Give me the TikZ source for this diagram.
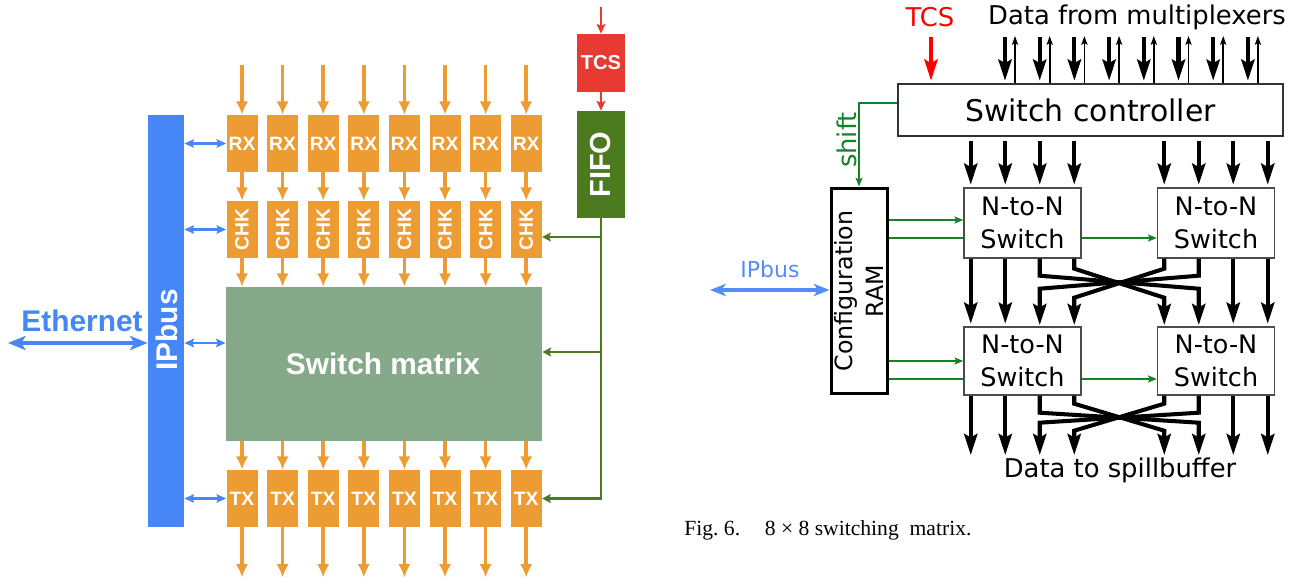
\documentclass[tikz,border=0pt]{standalone}
\usepackage{fontspec}
\setmainfont{Liberation Serif}
\setsansfont{DejaVu Sans}
\newfontfamily\arialfont{Liberation Sans}
\usetikzlibrary{arrows.meta, positioning}
\definecolor{gblue}{RGB}{70, 134, 246}
\definecolor{gorange}{RGB}{236, 156, 50}
\definecolor{gsage}{RGB}{134, 169, 138}
\definecolor{gred}{RGB}{232, 58, 48}
\definecolor{gfifo}{RGB}{76, 122, 30}
\definecolor{cgreen}{RGB}{22, 130, 40}
\definecolor{ipblue}{RGB}{84, 140, 250}

\begin{document}
\begin{tikzpicture}[x=0.02cm, y=-0.02cm,
    obox/.style={fill=gorange, minimum width=0.62cm, minimum height=1.14cm, inner sep=0pt},
    wlabel/.style={text=white, font=\arialfont\bfseries\fontsize{11}{13}\selectfont, inner sep=0pt},
    oarr/.style={draw=gorange, line width=2pt, -{Latex[length=7.5pt,width=7pt]}},
    barr/.style={draw=gblue, line width=1.3pt, {Stealth[length=5.5pt,width=4.8pt,inset=1pt]}-{Stealth[length=5.5pt,width=4.8pt,inset=1pt]}},
    etharr/.style={draw=gblue, line width=2pt, {Stealth[length=10pt,width=8pt,inset=2.5pt]}-{Stealth[length=10pt,width=8pt,inset=2.5pt]}},
    garr/.style={draw=gfifo, line width=1.6pt, -{Stealth[length=5pt,width=5pt,inset=1pt]}},
    rarr/.style={draw=gred, line width=1.2pt, -{Stealth[length=5.5pt,width=5pt,inset=1pt]}},
    swbox/.style={draw=black!70, line width=0.8pt, minimum width=2.34cm, minimum height=1.4cm, inner sep=0pt, align=center, font=\sffamily\fontsize{14.5}{19}\selectfont},
    rtext/.style={font=\sffamily\fontsize{14.7}{18}\selectfont, inner sep=0pt},
    darr/.style={line width=2.3pt, shorten >=1.5pt, -{Stealth[length=12pt,width=7.5pt,inset=2pt]}},
    uarr/.style={line width=0.9pt, -{Stealth[length=5pt,width=3.5pt,inset=1pt]}},
    cline/.style={draw=cgreen, line width=1.4pt},
    carr/.style={cline, -{Stealth[length=5pt,width=4pt,inset=1pt]}},
    iparr/.style={draw=ipblue, line width=1.8pt, {Stealth[length=9pt,width=7pt,inset=2.5pt]}-{Stealth[length=9pt,width=7pt,inset=2.5pt]}},
  ]
\useasboundingbox (0,0) rectangle (1301,577);

% ---- left: Ethernet / IPbus ----
\node[fill=gblue, minimum width=0.72cm, minimum height=8.24cm, inner sep=0pt] (ipbar) at (166,321) {};
\node[wlabel, rotate=90, font=\arialfont\bfseries\fontsize{17}{20}\selectfont] (iptxt) at (167,330) {IPbus};
\node[text=gblue, font=\arialfont\bfseries\fontsize{17}{20}\selectfont, inner sep=0pt] (ethlbl) at (82,321) {Ethernet};
\coordinate (ethin) at (8,343);
\draw[etharr] (ethin) -- (ipbar.west |- ethin);

% ---- left: RX / CHK / TX columns ----
\node[fill=gsage, minimum width=6.32cm, minimum height=3.08cm, inner sep=0pt] (sm) at (384,364) {};
\node[wlabel, font=\arialfont\bfseries\fontsize{17}{20}\selectfont] (smtxt) at (383,364) {Switch matrix};
\foreach \i in {1,...,8} {
  \pgfmathsetmacro\xx{242+40.6*(\i-1)}
  \node[obox] (rx\i) at (\xx,143.5) {};
  \node[wlabel] at (rx\i) {RX};
  \node[obox] (chk\i) at (\xx,229.5) {};
  \node[wlabel, rotate=90] at (chk\i) {CHK};
  \node[obox] (tx\i) at (\xx,498.5) {};
  \node[wlabel] at (tx\i) {TX};
  \draw[oarr] (rx\i.north) ++(0,-50) -- (rx\i.north);
  \draw[oarr] (rx\i.south) -- (chk\i.north);
  \draw[oarr] (chk\i.south) -- (chk\i.south |- sm.north);
  \draw[oarr] (tx\i.north |- sm.south) -- (tx\i.north);
  \draw[oarr] (tx\i.south) -- ++(0,50);
}
\draw[barr] (ipbar.east |- rx1) -- (rx1.west);
\draw[barr] (ipbar.east |- chk1) -- (chk1.west);
\draw[barr] (ipbar.east |- ethin) -- (sm.west |- ethin);
\draw[barr] (ipbar.east |- tx1) -- (tx1.west);

% ---- left: TCS / FIFO ----
\node[fill=gred, minimum width=0.96cm, minimum height=1.16cm, inner sep=0pt] (tcs) at (601,63) {};
\node[wlabel, font=\arialfont\bfseries\fontsize{11.5}{13}\selectfont] at (tcs) {TCS};
\node[fill=gfifo, minimum width=0.96cm, minimum height=2.14cm, inner sep=0pt] (fifo) at (601,164.5) {};
\node[wlabel, rotate=90, font=\arialfont\bfseries\fontsize{16.5}{19}\selectfont] at (fifo) {FIFO};
\draw[rarr] (tcs.north) ++(0,-27) -- (tcs.north);
\draw[rarr] (tcs.south) -- (fifo.north);
\coordinate (chkin) at ([yshift=-0.15cm]chk8.east);
\coordinate (smin) at ([yshift=0.24cm]sm.east);
\draw[garr] (fifo.south) |- (tx8.east);
\draw[garr] (fifo.south |- chkin) -- (chkin);
\draw[garr] (fifo.south |- smin) -- (smin);

% ---- right: switch controller ----
\node[draw=black!80, line width=0.8pt, minimum width=7.7cm, minimum height=1.04cm, inner sep=0pt,
      font=\sffamily\fontsize{17}{20}\selectfont] (ctrl) at (1090.5,110) {Switch controller};
\node[rtext, text=red] (tcslbl) at (930,17) {TCS};
\node[rtext] (dfm) at (1137,17) {Data from multiplexers};
\coordinate (tcsin) at (931,37);
\draw[darr, red] (tcsin) -- (tcsin |- ctrl.north);
\foreach \i in {0,...,7} {
  \pgfmathsetmacro\xd{1005+34.7*\i}
  \coordinate (din\i) at (\xd,37);
  \coordinate (dout\i) at (\xd+10,36);
  \draw[darr] (din\i) -- (din\i |- ctrl.north);
  \draw[uarr] (dout\i |- ctrl.north) -- (dout\i);
}

% ---- right: N-to-N switches ----
\node[swbox] (sw11) at (1022.5,223) {N-to-N\\Switch};
\node[swbox] (sw12) at (1216,223) {N-to-N\\Switch};
\node[swbox, minimum height=1.36cm] (sw21) at (1022.5,361) {N-to-N\\Switch};
\node[swbox, minimum height=1.36cm] (sw22) at (1216,361) {N-to-N\\Switch};
\foreach \o [count=\k] in {-51.75,-17.25,17.25,51.75} {
  \coordinate (a\k) at ([xshift=\o*0.02cm]sw11.north);
  \coordinate (b\k) at ([xshift=\o*0.02cm]sw12.north);
  \draw[darr] (a\k |- ctrl.south) ++(0,4) -- (a\k);
  \draw[darr] (b\k |- ctrl.south) ++(0,4) -- (b\k);
}
% straight links
\foreach \p in {a1,a2} {
  \draw[darr] (sw11.south -| \p) -- (sw21.north -| \p);
  \draw[darr] (sw21.south -| \p) -- ++(0,62);
}
\foreach \p in {b3,b4} {
  \draw[darr] (sw12.south -| \p) -- (sw22.north -| \p);
  \draw[darr] (sw22.south -| \p) -- ++(0,62);
}
% crossing links
\draw[darr] (sw11.south -| a3) -- ++(0,17) -- ++(159,13) -- ++(0,39);
\draw[darr] (sw11.south -| a4) -- ++(0,10) -- ++(90,29) -- ++(0,30);
\draw[darr] (sw12.south -| b1) -- ++(0,10) -- ++(-90,29) -- ++(0,30);
\draw[darr] (sw12.south -| b2) -- ++(0,17) -- ++(-159,13) -- ++(0,39);
\draw[darr] (sw21.south -| a3) -- ++(0,17) -- ++(159,10) -- ++(0,35);
\draw[darr] (sw21.south -| a4) -- ++(0,8) -- ++(90,27) -- ++(0,27);
\draw[darr] (sw22.south -| b1) -- ++(0,8) -- ++(-90,27) -- ++(0,27);
\draw[darr] (sw22.south -| b2) -- ++(0,17) -- ++(-159,10) -- ++(0,35);
\node[rtext] (dts) at (1120,470) {Data to spillbuffer};

% ---- right: configuration RAM ----
\node[draw, line width=1.7pt, minimum width=1.12cm, minimum height=4.12cm, inner sep=0pt] (cfg) at (859,291) {};
\node[rotate=90, align=center, font=\sffamily\fontsize{13.5}{17.5}\selectfont] at (cfg) {Configuration\\RAM};
\draw[carr] ([yshift=0.14cm]ctrl.west) -| (cfg.north);
\node[rtext, text=cgreen, rotate=90] (shiftlbl) at (847,140) {shift};
\coordinate (s1a) at ([yshift=0.06cm]sw11.west);
\coordinate (s1b) at ([yshift=-0.3cm]sw11.west);
\coordinate (s1c) at ([yshift=-0.3cm]sw11.east);
\coordinate (s2b) at ([yshift=-0.36cm]sw21.west);
\coordinate (s2c) at ([yshift=-0.36cm]sw21.east);
\draw[carr] (cfg.east |- s1a) -- (s1a);
\draw[cline] (cfg.east |- s1b) -- (s1b);
\draw[carr] (s1c) -- (sw12.west |- s1c);
\draw[carr] (cfg.east |- sw21.west) -- (sw21.west);
\draw[cline] (cfg.east |- s2b) -- (s2b);
\draw[carr] (s2c) -- (sw22.west |- s2c);
\node[rtext, text=ipblue, font=\sffamily\fontsize{12.5}{15}\selectfont] (ipblbl) at (770,269) {IPbus};
\coordinate (ipin) at (710,290);
\draw[iparr] (ipin) -- (ipin -| cfg.west);

% ---- caption ----
\node[anchor=west, inner sep=0pt, font=\fontsize{12.3}{14}\selectfont] (cap) at (684,530) {Fig.~6.\hspace{14pt}8 × 8 switching\ \ matrix.};
\end{tikzpicture}
\end{document}
